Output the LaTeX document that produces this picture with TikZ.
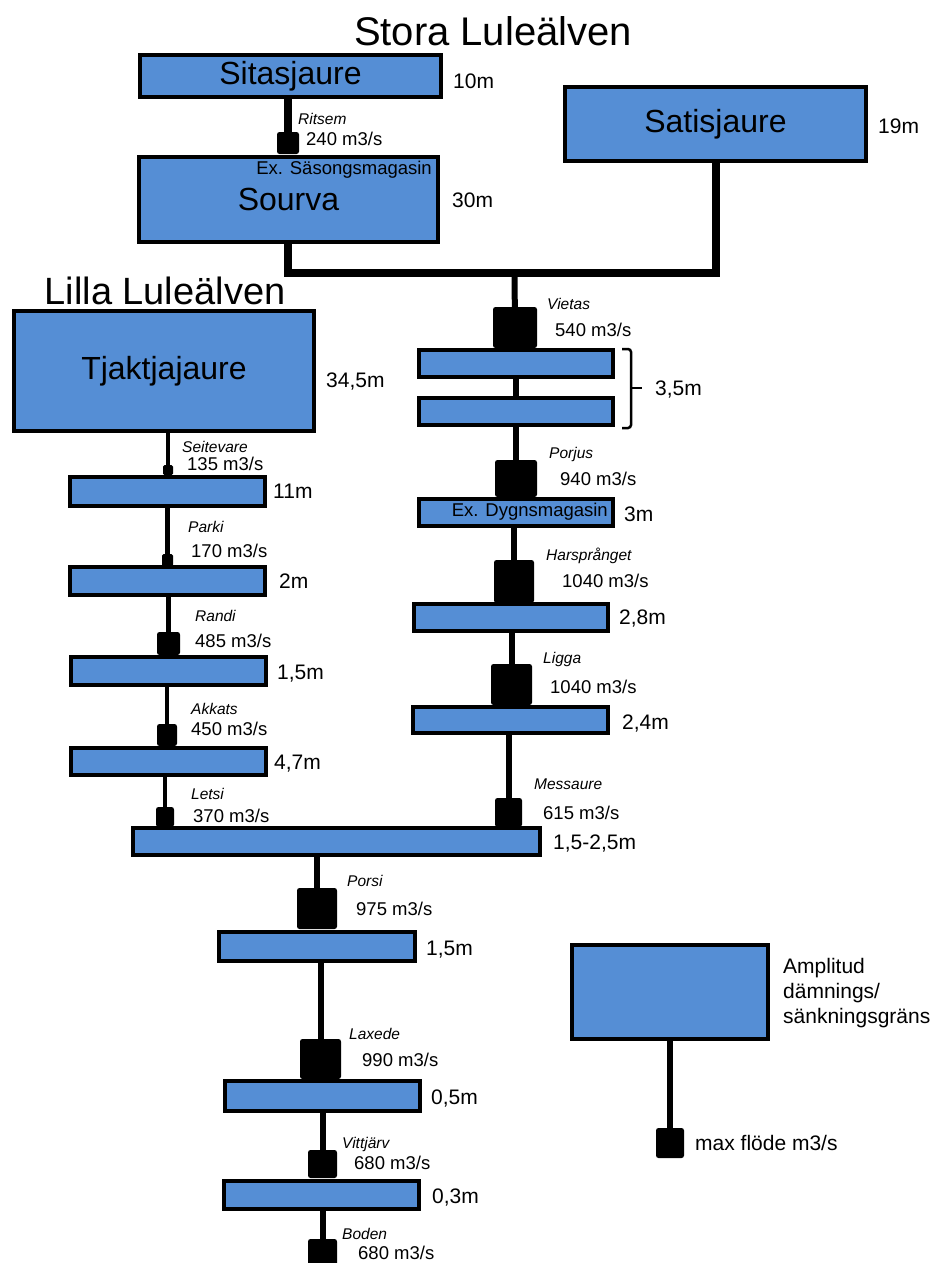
\documentclass[tikz,border=0pt]{standalone}
\usepackage{fontspec}
\setmainfont{Liberation Sans}
\definecolor{lakeblue}{RGB}{85,142,213}

\begin{document}
\begin{tikzpicture}[x=1pt, y=-1pt,
  lake/.style={draw, line width=3.5pt, fill=lakeblue, inner sep=0pt, font=\fontsize{32}{38}\selectfont},
  dam/.style={fill=black, rounded corners=2.5pt, inner sep=0pt},
  river/.style={line width=6pt},
  stn/.style={anchor=west, inner sep=0pt, font=\fontsize{15.5}{18}\selectfont\itshape, text height=11pt, text depth=0pt},
  flow/.style={anchor=west, inner sep=0pt, font=\fontsize{18.5}{22}\selectfont, text height=13.2pt, text depth=0pt},
  amp/.style={anchor=west, inner sep=0pt, font=\fontsize{21}{25}\selectfont, text height=15pt, text depth=0pt},
  title/.style={inner sep=0pt, font=\fontsize{38}{44}\selectfont}]
\useasboundingbox (0,0) rectangle (934,1263);
\node[title, font=\fontsize{40}{46}\selectfont] (stora) at (493,31) {Stora Luleälven}; \node[title] (lilla) at (165,291) {Lilla Luleälven};
% Stora Luleälven
\node[lake, minimum width=301pt, minimum height=42pt] (sitas) at (290.5,76) {Sitasjaure};
\node[lake, minimum width=299pt, minimum height=85pt] (sourva) at (288.5,199.5) {Sourva};
\node[lake, minimum width=301pt, minimum height=74pt] (satis) at (715.5,124) {Satisjaure};
\node[inner sep=0pt, anchor=east, font=\fontsize{18.5}{22}\selectfont] (sourvaex) at (432,170) {Ex. Säsongsmagasin};
\node[dam, minimum width=22pt, minimum height=22pt] (ritsem) at (288,143) {};
\draw[line width=8pt] (sitas.south -| ritsem) -- (ritsem);
\coordinate (junc) at (514.5,273);
\draw[line width=8pt] (ritsem |- sourva.south) |- (junc) -| (satis.south);
\node[amp] (sitasH) at (453,81) {10m}; \node[amp] (sourvaH) at (452,200) {30m}; \node[amp] (satisH) at (878,126) {19m};
\node[stn] (ritsemN) at (298,119) {Ritsem}; \node[flow] (ritsemQ) at (306,139) {240 m3/s};
% Lilla Luleälven
\node[lake, minimum width=300pt, minimum height=120pt] (tjakt) at (164,371) {Tjaktjajaure};
\node[lake, minimum width=195pt, minimum height=29pt] (l1) at (167.5,491.5) {};
\node[lake, minimum width=195pt, minimum height=28pt] (l2) at (167.5,581) {};
\node[lake, minimum width=195pt, minimum height=28pt] (l3) at (168.5,671) {};
\node[lake, minimum width=195pt, minimum height=27pt] (l4) at (168.5,761.5) {};
\node[dam, minimum width=10pt, minimum height=10pt, rounded corners=1.5pt] (seite) at (168,470) {};
\node[dam, minimum width=11pt, minimum height=12pt, rounded corners=1.5pt] (parki) at (167.5,560) {};
\node[dam, minimum width=23pt, minimum height=23pt] (randi) at (168.5,643.5) {};
\node[dam, minimum width=20pt, minimum height=22pt] (akkats) at (167,735) {};
\node[dam, minimum width=18pt, minimum height=20pt] (letsi) at (165,817) {};
\draw[line width=4.5pt] (tjakt.south -| seite) -- (seite); \draw[line width=4.5pt] (l1.south -| parki) -- (parki);
\draw[line width=4.5pt] (l2.south -| randi) -- (randi); \draw[line width=4.5pt] (l3.south -| akkats) -- (akkats);
\draw[line width=4.5pt] (l4.south -| letsi) -- (letsi);
\node[amp] (tjaktH) at (326,380) {34,5m}; \node[amp] (l1H) at (273,491) {11m}; \node[amp] (l2H) at (279,581) {2m};
\node[amp] (l3H) at (277,672) {1,5m}; \node[amp] (l4H) at (274,762) {4,7m};
\node[stn] (seiteN) at (182,447) {Seitevare}; \node[flow] (seiteQ) at (187,464) {135 m3/s};
\node[stn] (parkiN) at (188,527) {Parki}; \node[flow] (parkiQ) at (191,551) {170 m3/s};
\node[stn] (randiN) at (195,616) {Randi}; \node[flow] (randiQ) at (195,641) {485 m3/s};
\node[stn] (akkatsN) at (191,709) {Akkats}; \node[flow] (akkatsQ) at (191,729) {450 m3/s};
\node[stn] (letsiN) at (191,794) {Letsi}; \node[flow] (letsiQ) at (193,816) {370 m3/s};
% Stora, nedströms
\node[lake, minimum width=194pt, minimum height=27pt] (v1) at (516,363.5) {};
\node[lake, minimum width=194pt, minimum height=27pt] (v2) at (516,411.5) {};
\node[lake, minimum width=194pt, minimum height=27pt] (pj) at (516,512.5) {};
\node[lake, minimum width=194pt, minimum height=27pt] (ha) at (511,617.5) {};
\node[lake, minimum width=195pt, minimum height=26pt] (li) at (510.5,720) {};
\node[inner sep=0pt, anchor=east, font=\fontsize{18.5}{22}\selectfont] (pjex) at (608,512) {Ex. Dygnsmagasin};
\node[dam, minimum width=44pt, minimum height=41pt] (vietas) at (515,327.5) {};
\node[dam, minimum width=42pt, minimum height=37pt] (porjus) at (516,478.5) {};
\node[dam, minimum width=40pt, minimum height=43pt] (hars) at (514,581.5) {};
\node[dam, minimum width=41pt, minimum height=41pt] (ligga) at (511.5,684.5) {};
\node[dam, minimum width=27pt, minimum height=29pt] (mess) at (508.5,812.5) {};
\draw[river] (junc) -- (vietas); \draw[river] (v1.south) -- (v2.north); \draw[river] (v2.south -| porjus) -- (porjus);
\draw[river] (pj.south -| hars) -- (hars); \draw[river] (ha.south -| ligga) -- (ligga); \draw[river] (li.south -| mess) -- (mess);
\draw[line width=2.5pt, rounded corners=3pt] (622,349) -- (631,349) -- (631,428) -- (622,428); \draw[line width=2.5pt] (631,388) -- (642,388);
\node[amp] (vH) at (655,388) {3,5m}; \node[amp] (pjH) at (624,514) {3m}; \node[amp] (haH) at (619,617) {2,8m}; \node[amp] (liH) at (622,722) {2,4m};
\node[stn] (vietasN) at (547,304) {Vietas}; \node[flow] (vietasQ) at (555,330) {540 m3/s};
\node[stn] (porjusN) at (549,453) {Porjus}; \node[flow] (porjusQ) at (560,479) {940 m3/s};
\node[stn] (harsN) at (546,555) {Harsprånget}; \node[flow] (harsQ) at (562,581) {1040 m3/s};
\node[stn] (liggaN) at (543,658) {Ligga}; \node[flow] (liggaQ) at (550,687) {1040 m3/s};
\node[stn] (messN) at (534,784) {Messaure}; \node[flow] (messQ) at (543,813) {615 m3/s};
% Luleälven
\node[lake, minimum width=407pt, minimum height=27pt] (big) at (336.5,841.5) {};
\node[lake, minimum width=196pt, minimum height=29pt] (po) at (317,946.5) {};
\node[lake, minimum width=195pt, minimum height=30pt] (la) at (322.5,1096) {};
\node[lake, minimum width=195pt, minimum height=28pt] (vi) at (321.5,1195) {};
\node[dam, minimum width=40pt, minimum height=41pt] (porsi) at (317,908.5) {};
\node[dam, minimum width=41pt, minimum height=40pt] (laxede) at (320.5,1059) {};
\node[dam, minimum width=29pt, minimum height=28pt] (vittj) at (322.5,1164) {};
\node[dam, minimum width=29pt, minimum height=32pt] (boden) at (322.5,1255) {};
\draw[river] (big.south -| porsi) -- (porsi); \draw[river] (po.south -| laxede) -- (laxede);
\draw[river] (la.south -| vittj) -- (vittj); \draw[river] (vi.south -| boden) -- (boden);
\node[amp] (bigH) at (553,842) {1,5-2,5m}; \node[amp] (poH) at (426,948) {1,5m}; \node[amp] (laH) at (431,1097) {0,5m}; \node[amp] (viH) at (432,1196) {0,3m};
\node[stn] (porsiN) at (347,881) {Porsi}; \node[flow] (porsiQ) at (356,909) {975 m3/s};
\node[stn] (laxedeN) at (349,1034) {Laxede}; \node[flow] (laxedeQ) at (362,1060) {990 m3/s};
\node[stn] (vittjN) at (342,1143) {Vittjärv}; \node[flow] (vittjQ) at (354,1163) {680 m3/s};
\node[stn] (bodenN) at (342,1234) {Boden}; \node[flow] (bodenQ) at (358,1253) {680 m3/s};
% förklaring
\node[lake, minimum width=196pt, minimum height=94pt] (leg) at (670,992) {};
\node[dam, minimum width=28pt, minimum height=30pt] (legdam) at (670,1143) {};
\draw[river] (leg.south) -- (legdam);
\node[anchor=west, inner sep=0pt, align=left, font=\fontsize{21}{25}\selectfont] (legH) at (783,993) {Amplitud\\dämnings/\\sänkningsgräns};
\node[amp] (legQ) at (695,1143) {max flöde m3/s};
\end{tikzpicture}
\end{document}
